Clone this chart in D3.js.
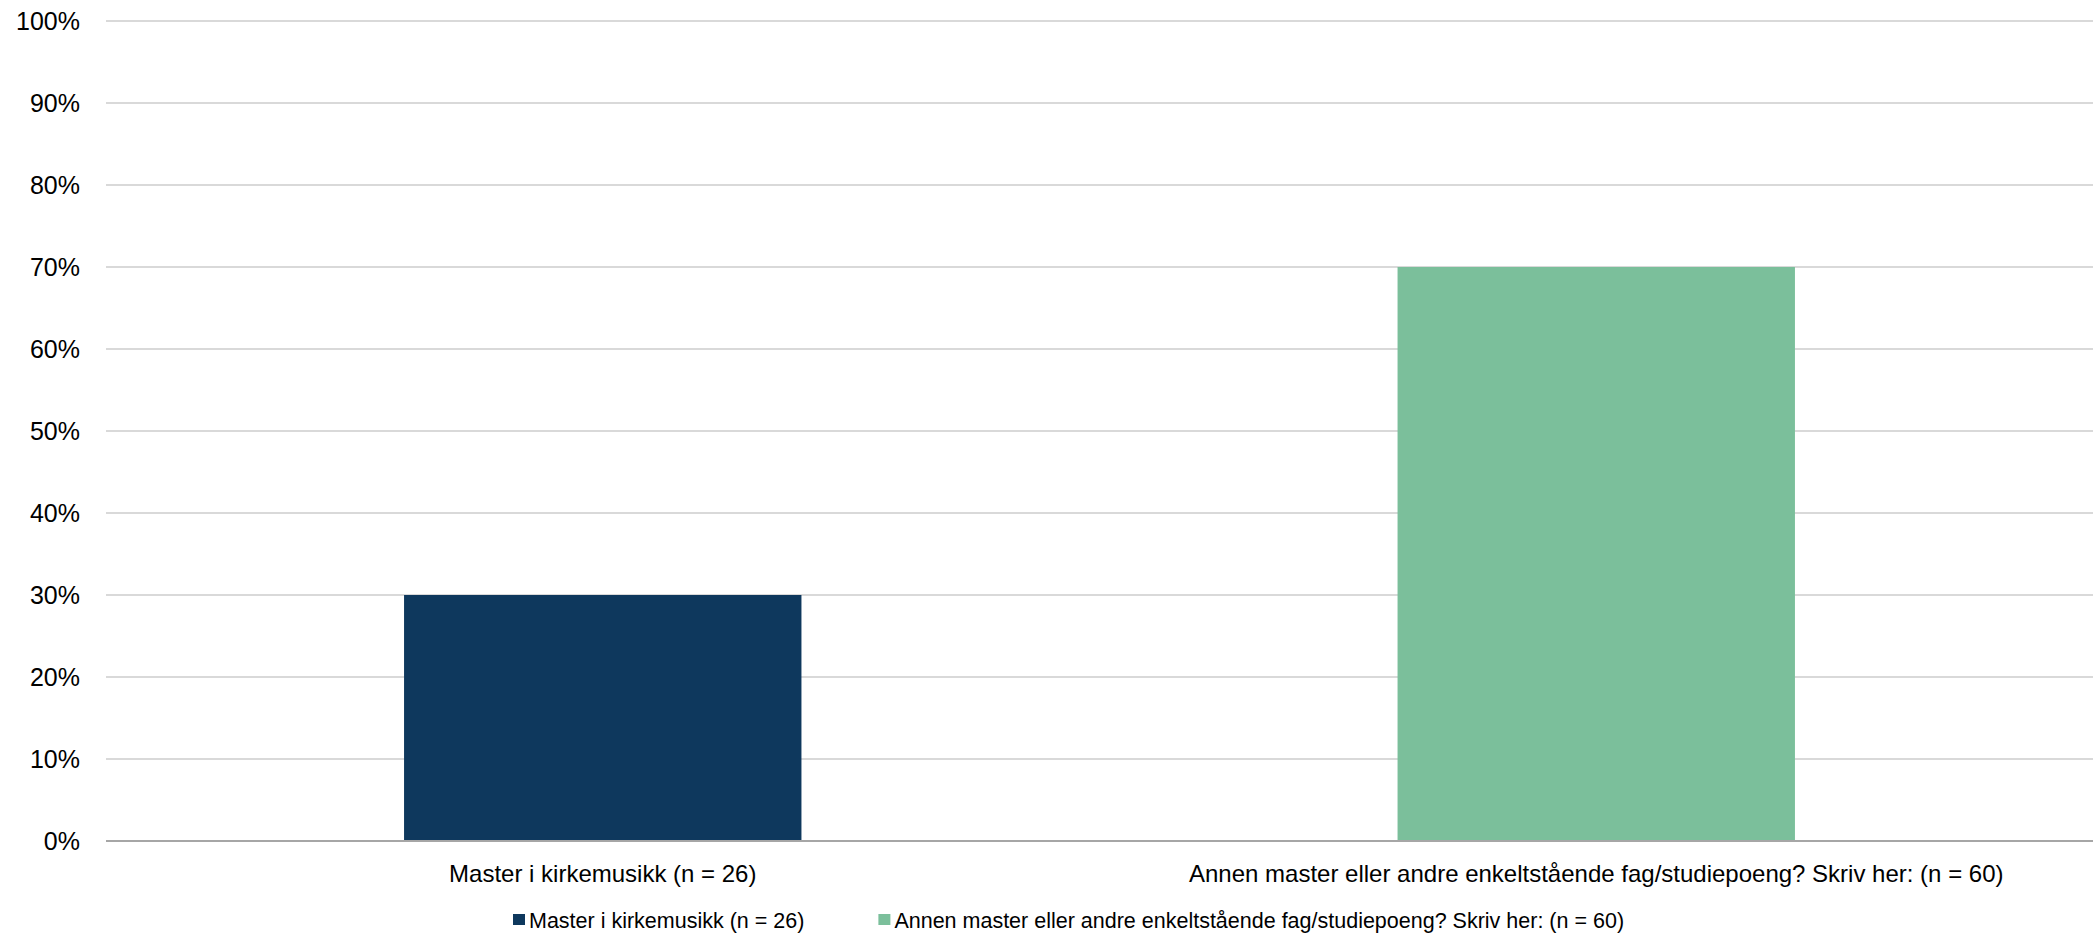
<!DOCTYPE html>
<html>
<head>
<meta charset="utf-8">
<script src="https://cdn.jsdelivr.net/npm/d3@7/dist/d3.min.js"></script>
<style>
  html, body { margin: 0; padding: 0; background: #fff; }
  svg { display: block; font-family: "Liberation Sans", Arial, sans-serif; }
</style>
</head>
<body>
<div id="chart"></div>
<script>
// chart data
var categories = ["Master i kirkemusikk (n = 26)", "Annen master eller andre enkeltstående fag/studiepoeng? Skriv her: (n = 60)"];
var values = [30, 70];
var colors = ["#0e385d", "#7bbf9b"];
var yTicks = [0, 10, 20, 30, 40, 50, 60, 70, 80, 90, 100];

var width = 2093, height = 937;
var margin = { top: 21, right: 0, bottom: 96, left: 106 };

var svg = d3.select("#chart").append("svg")
    .attr("width", width)
    .attr("height", height);

var x = d3.scaleBand()
    .domain(categories)
    .range([margin.left, width - margin.right])
    .paddingInner(0.6)
    .paddingOuter(0.3);

var y = d3.scaleLinear()
    .domain([0, 100])
    .range([height - margin.bottom, margin.top]);

// gridlines
svg.append("g")
    .selectAll("line")
    .data(yTicks.filter(function (d) { return d > 0; }))
    .enter().append("line")
    .attr("x1", margin.left)
    .attr("x2", width - margin.right)
    .attr("y1", function (d) { return y(d); })
    .attr("y2", function (d) { return y(d); })
    .attr("stroke", "#d9d9d9")
    .attr("stroke-width", 2);

// y axis labels
var yAxis = d3.axisLeft(y)
    .tickValues(yTicks)
    .tickFormat(function (d) { return d + "%"; })
    .tickSize(0)
    .tickPadding(26);

svg.append("g")
    .attr("transform", "translate(" + margin.left + ",0)")
    .call(yAxis)
    .call(function (g) { g.select(".domain").remove(); })
    .selectAll("text")
    .attr("font-size", 25)
    .attr("font-family", "Liberation Sans, Arial, sans-serif")
    .attr("fill", "#000");

// bars
svg.append("g")
    .selectAll("rect")
    .data(values)
    .enter().append("rect")
    .attr("x", function (d, i) { return x(categories[i]); })
    .attr("y", function (d) { return y(d); })
    .attr("width", x.bandwidth())
    .attr("height", function (d) { return y(0) - y(d); })
    .attr("fill", function (d, i) { return colors[i]; });

// baseline
svg.append("line")
    .attr("x1", margin.left)
    .attr("x2", width - margin.right)
    .attr("y1", y(0))
    .attr("y2", y(0))
    .attr("stroke", "#a6a6a6")
    .attr("stroke-width", 2);

// x axis labels
var xAxis = d3.axisBottom(x).tickSize(0).tickPadding(24);
svg.append("g")
    .attr("transform", "translate(0," + y(0) + ")")
    .call(xAxis)
    .call(function (g) { g.select(".domain").remove(); })
    .selectAll("text")
    .attr("font-size", 24)
    .attr("font-family", "Liberation Sans, Arial, sans-serif")
    .attr("fill", "#000");

// legend
var legend = svg.append("g").attr("transform", "translate(0,921)");
var lx = 513;
categories.forEach(function (c, i) {
    var item = legend.append("g").attr("transform", "translate(" + lx + ",0)");
    item.append("rect")
        .attr("x", 0).attr("y", -7)
        .attr("width", 12).attr("height", 11)
        .attr("fill", colors[i]);
    var t = item.append("text")
        .attr("x", 16)
        .attr("y", 0)
        .attr("dy", "0.33em")
        .attr("font-size", 21.5)
        .attr("fill", "#000")
        .text(c);
    lx += 16 + t.node().getComputedTextLength() + 74;
});
</script>
</body>
</html>
